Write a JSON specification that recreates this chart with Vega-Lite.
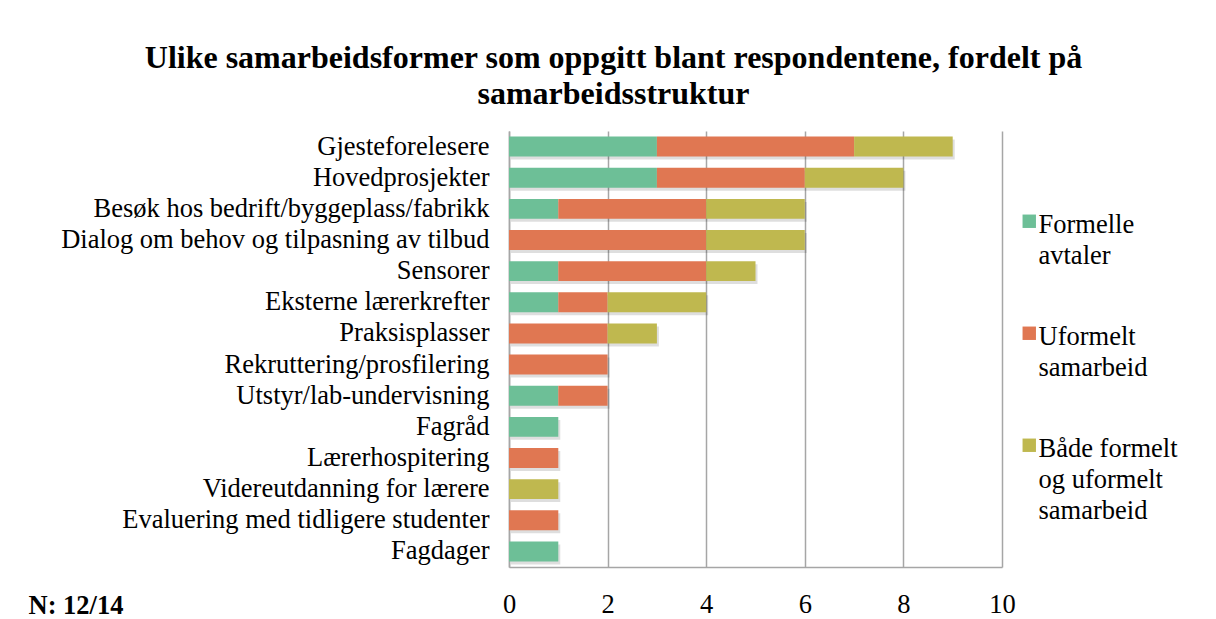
{
  "$schema": "https://vega.github.io/schema/vega-lite/v6.json",
  "width": 493,
  "height": 436,
  "autosize": {"type": "none"},
  "padding": {"left": 509, "top": 131, "right": 214, "bottom": 52},
  "background": "white",
  "title": {
    "text": ["Ulike samarbeidsformer som oppgitt blant respondentene, fordelt på", "samarbeidsstruktur"],
    "font": "Liberation Serif",
    "fontSize": 32,
    "fontWeight": "bold",
    "color": "black",
    "anchor": "middle",
    "frame": "group",
    "dx": -142,
    "offset": 20,
    "lineHeight": 36
  },
  "data": {
    "values": [
      {"kategori": "Gjesteforelesere", "type": "Formelle avtaler", "o": 1, "n": 3},
      {"kategori": "Gjesteforelesere", "type": "Uformelt samarbeid", "o": 2, "n": 4},
      {"kategori": "Gjesteforelesere", "type": "Både formelt og uformelt samarbeid", "o": 3, "n": 2},
      {"kategori": "Hovedprosjekter", "type": "Formelle avtaler", "o": 1, "n": 3},
      {"kategori": "Hovedprosjekter", "type": "Uformelt samarbeid", "o": 2, "n": 3},
      {"kategori": "Hovedprosjekter", "type": "Både formelt og uformelt samarbeid", "o": 3, "n": 2},
      {"kategori": "Besøk hos bedrift/byggeplass/fabrikk", "type": "Formelle avtaler", "o": 1, "n": 1},
      {"kategori": "Besøk hos bedrift/byggeplass/fabrikk", "type": "Uformelt samarbeid", "o": 2, "n": 3},
      {"kategori": "Besøk hos bedrift/byggeplass/fabrikk", "type": "Både formelt og uformelt samarbeid", "o": 3, "n": 2},
      {"kategori": "Dialog om behov og tilpasning av tilbud", "type": "Uformelt samarbeid", "o": 2, "n": 4},
      {"kategori": "Dialog om behov og tilpasning av tilbud", "type": "Både formelt og uformelt samarbeid", "o": 3, "n": 2},
      {"kategori": "Sensorer", "type": "Formelle avtaler", "o": 1, "n": 1},
      {"kategori": "Sensorer", "type": "Uformelt samarbeid", "o": 2, "n": 3},
      {"kategori": "Sensorer", "type": "Både formelt og uformelt samarbeid", "o": 3, "n": 1},
      {"kategori": "Eksterne lærerkrefter", "type": "Formelle avtaler", "o": 1, "n": 1},
      {"kategori": "Eksterne lærerkrefter", "type": "Uformelt samarbeid", "o": 2, "n": 1},
      {"kategori": "Eksterne lærerkrefter", "type": "Både formelt og uformelt samarbeid", "o": 3, "n": 2},
      {"kategori": "Praksisplasser", "type": "Uformelt samarbeid", "o": 2, "n": 2},
      {"kategori": "Praksisplasser", "type": "Både formelt og uformelt samarbeid", "o": 3, "n": 1},
      {"kategori": "Rekruttering/prosfilering", "type": "Uformelt samarbeid", "o": 2, "n": 2},
      {"kategori": "Utstyr/lab-undervisning", "type": "Formelle avtaler", "o": 1, "n": 1},
      {"kategori": "Utstyr/lab-undervisning", "type": "Uformelt samarbeid", "o": 2, "n": 1},
      {"kategori": "Fagråd", "type": "Formelle avtaler", "o": 1, "n": 1},
      {"kategori": "Lærerhospitering", "type": "Uformelt samarbeid", "o": 2, "n": 1},
      {"kategori": "Videreutdanning for lærere", "type": "Både formelt og uformelt samarbeid", "o": 3, "n": 1},
      {"kategori": "Evaluering med tidligere studenter", "type": "Uformelt samarbeid", "o": 2, "n": 1},
      {"kategori": "Fagdager", "type": "Formelle avtaler", "o": 1, "n": 1}
    ]
  },
  "encoding": {
    "y": {
      "field": "kategori",
      "type": "nominal",
      "sort": ["Gjesteforelesere", "Hovedprosjekter", "Besøk hos bedrift/byggeplass/fabrikk", "Dialog om behov og tilpasning av tilbud", "Sensorer", "Eksterne lærerkrefter", "Praksisplasser", "Rekruttering/prosfilering", "Utstyr/lab-undervisning", "Fagråd", "Lærerhospitering", "Videreutdanning for lærere", "Evaluering med tidligere studenter", "Fagdager"],
      "scale": {"paddingInner": 0.36, "paddingOuter": 0.18},
      "axis": {
        "title": null,
        "ticks": false,
        "grid": false,
        "labelFont": "Liberation Serif",
        "labelFontSize": 26.5,
        "labelColor": "black",
        "labelPadding": 20,
        "labelLimit": 0,
        "domainColor": "#A6A6A6",
        "domainWidth": 1.5
      }
    },
    "x": {
      "field": "n",
      "type": "quantitative",
      "stack": "zero",
      "scale": {"domain": [0, 10]},
      "axis": {
        "values": [0, 2, 4, 6, 8, 10],
        "grid": true,
        "gridColor": "#A6A6A6",
        "gridWidth": 1.5,
        "ticks": false,
        "domainColor": "#A6A6A6",
        "domainWidth": 1.5,
        "labelFont": "Liberation Serif",
        "labelFontSize": 26.5,
        "labelColor": "black",
        "labelPadding": 24,
        "labelFlush": false,
        "title": "N: 12/14",
        "titleFont": "Liberation Serif",
        "titleFontSize": 26.5,
        "titleFontWeight": "bold",
        "titleColor": "black",
        "titleX": -481,
        "titleY": 46,
        "titleAlign": "left",
        "titleBaseline": "alphabetic",
        "titleAnchor": "start"
      }
    },
    "detail": {"field": "type", "type": "nominal"},
    "order": {"field": "o", "type": "quantitative"}
  },
  "layer": [
    {
      "mark": {"type": "bar", "height": {"band": 1}, "color": "#000000", "opacity": 0.13, "xOffset": 2, "yOffset": 3}
    },
    {
      "mark": {"type": "bar", "height": {"band": 1}},
      "encoding": {
        "color": {
          "field": "type",
          "type": "nominal",
          "scale": {
            "domain": ["Formelle avtaler", "Uformelt samarbeid", "Både formelt og uformelt samarbeid"],
            "range": ["#6DBF97", "#E07752", "#BFB84F"]
          },
          "legend": {
            "orient": "none",
            "legendX": 507,
            "legendY": 77,
            "title": null,
            "symbolType": "square",
            "symbolSize": 180,
            "symbolStrokeWidth": 0,
            "symbolOpacity": 1,
            "labelFont": "Liberation Serif",
            "labelFontSize": 26.5,
            "labelColor": "black",
            "labelLimit": 0,
            "labelOffset": -4,
            "labelBaseline": "alphabetic",
            "rowPadding": 50,
            "labelExpr": "datum.value == 'Formelle avtaler' ? ['Formelle', 'avtaler'] : datum.value == 'Uformelt samarbeid' ? ['Uformelt', 'samarbeid'] : ['Både formelt', 'og uformelt', 'samarbeid']",
            "encode": {"labels": {"update": {"dy": {"value": 12}}}}
          }
        }
      }
    }
  ],
  "config": {
    "view": {"stroke": null},
    "style": {"guide-label": {"lineHeight": 31}}
  }
}
